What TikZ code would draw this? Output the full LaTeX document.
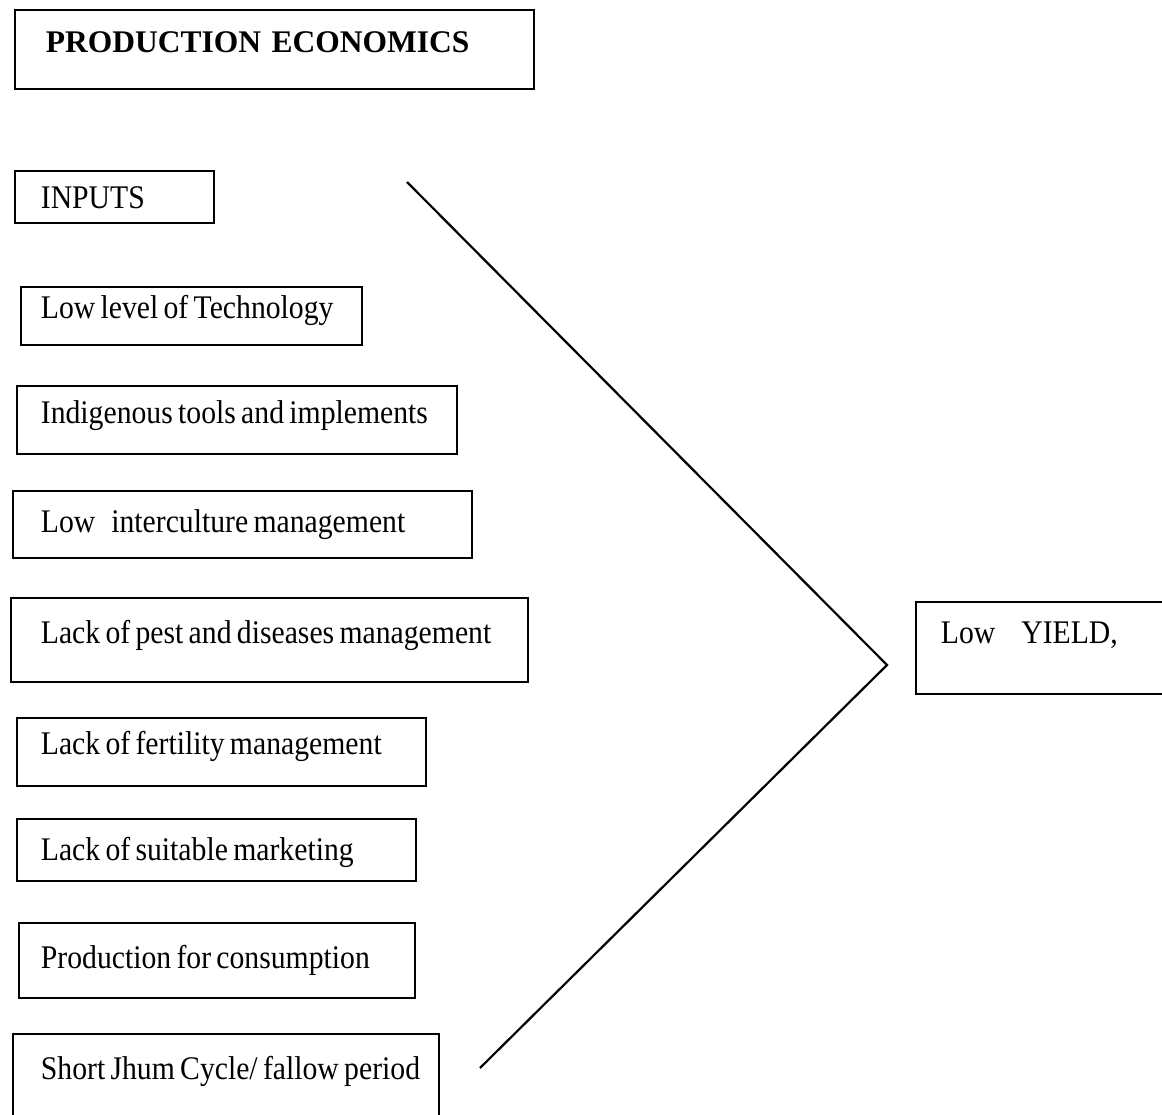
\documentclass[tikz,border=0pt]{standalone}
\usepackage{fontspec}
\newfontfamily\tf[FakeStretch=0.9]{Liberation Serif}
\newfontfamily\titlef{Liberation Serif}
\newcommand\boxtext[1]{\spaceskip=5.3pt\relax\mbox{#1}}
\tikzset{
  tbox/.style={draw, line width=1.8pt, rectangle, anchor=north west, inner ysep=0pt, align=left,
    font=\tf\fontsize{33}{36}\selectfont},
  conn/.style={line width=2.2pt}
}
\begin{document}
\begin{tikzpicture}[x=1pt,y=-1pt]
\useasboundingbox (0,0) rectangle (1162,1115);
% title
\node[tbox, font=\titlef\bfseries\fontsize{31.5}{34}\selectfont, inner xsep=31pt, text width=457pt, text height=43pt, text depth=36pt] (title) at (14,9) {\mbox{PRODUCTION ECONOMICS}};
\node[tbox, inner xsep=26pt, text width=147pt, text height=38pt, text depth=14pt] (inputs) at (14,170) {\boxtext{INPUTS}};
\node[tbox, inner xsep=20pt, text width=301pt, text height=32pt, text depth=26pt] (tech) at (20,286) {\boxtext{Low level of Technology}};
\node[tbox, inner xsep=24pt, text width=392pt, text height=38pt, text depth=30pt] (tools) at (16,385) {\boxtext{Indigenous tools and implements}};
\node[tbox, inner xsep=28pt, text width=403pt, text height=42pt, text depth=25pt] (inter) at (12,490) {\boxtext{Low\hspace{16pt}interculture management}};
\node[tbox, inner xsep=30pt, text width=457pt, text height=46pt, text depth=38pt] (pest) at (10,597) {\boxtext{Lack of pest and diseases management}};
\node[tbox, inner xsep=24pt, text width=361pt, text height=37pt, text depth=31pt] (fert) at (16,717) {\boxtext{Lack of fertility management}};
\node[tbox, inner xsep=24pt, text width=351pt, text height=42pt, text depth=20pt] (mkt) at (16,818) {\boxtext{Lack of suitable marketing}};
\node[tbox, inner xsep=22pt, text width=352pt, text height=46pt, text depth=29pt] (cons) at (18,922) {\boxtext{Production for consumption}};
\node[tbox, inner xsep=28pt, text width=370pt, text height=46pt, text depth=50pt] (jhum) at (12,1033) {\boxtext{Short Jhum Cycle/ fallow period}};
\node[tbox, inner xsep=25pt, text width=210pt, text height=42pt, text depth=50pt] (yield) at (915,601) {\boxtext{Low\hspace{26pt}YIELD,}};
% connectors
\coordinate (apex) at (887,665);
\coordinate (upper) at (407,182);
\coordinate (lower) at (480,1068);
\draw[conn] (upper) -- (apex) -- (lower);
\end{tikzpicture}
\end{document}
